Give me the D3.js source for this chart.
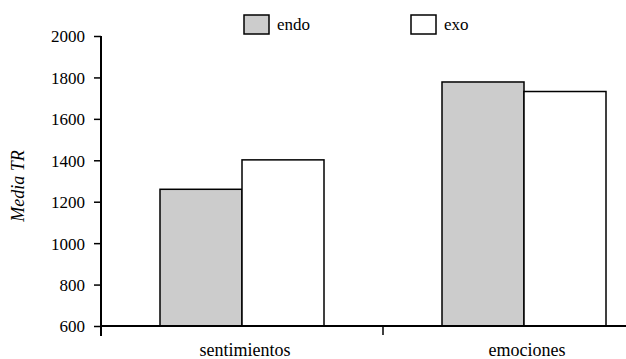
<!DOCTYPE html>
<html>
<head>
<meta charset="utf-8">
<script src="https://cdn.jsdelivr.net/npm/d3@7"></script>
<style>
  html, body { margin: 0; padding: 0; background: #fff; }
  svg { display: block; }
</style>
</head>
<body>
<svg id="chart" width="626" height="359" font-family="Liberation Serif"></svg>
<script>
const categories = ["sentimientos", "emociones"];
const seriesNames = ["endo", "exo"];
const endoValues = [1260, 1778];
const exoValues = [1402, 1732];
const yTicks = [600, 800, 1000, 1200, 1400, 1600, 1800, 2000];
const seriesColors = ["#cccccc", "#ffffff"];

const FONT = "Liberation Serif";
const svg = d3.select("#chart");
const W = 626, H = 359;
const x0 = 101, y0 = 326, yTop = 36;

function serif(sel, size) {
  return sel.attr("font-family", FONT).attr("font-size", size)
    .style("font-family", FONT, "important").style("font-size", size + "px", "important");
}

const y = d3.scaleLinear().domain([600, 2000]).range([y0, yTop]);
const x = d3.scaleBand().domain(categories).range([x0, x0 + 564]).paddingInner(0).paddingOuter(0);
const inner = d3.scaleBand().domain(seriesNames).range([0, 164]);

const data = categories.map((c, i) => ({cat: c, values: [endoValues[i], exoValues[i]]}));

// bars
const g = svg.append("g");
data.forEach(d => {
  const gx = x(d.cat) + x.bandwidth() / 2 - 82;
  d.values.forEach((v, j) => {
    g.append("rect")
      .attr("x", gx + inner(seriesNames[j]))
      .attr("y", y(v))
      .attr("width", inner.bandwidth())
      .attr("height", y0 - y(v))
      .attr("fill", seriesColors[j])
      .attr("stroke", "#000")
      .attr("stroke-width", 1.5);
  });
});

// y axis
const yAxis = d3.axisLeft(y).tickValues(yTicks).tickFormat(d3.format("d")).tickSize(7).tickSizeOuter(0);
const ya = svg.append("g").attr("transform", `translate(${x0},0)`).call(yAxis);
serif(ya, 17);
ya.select(".domain").remove();
ya.selectAll(".tick line").attr("stroke", "#000").attr("stroke-width", 1.5);
serif(ya.selectAll(".tick text").attr("x", -16).attr("dy", "0.35em").attr("fill", "#000"), 17);
svg.append("line").attr("x1", x0).attr("x2", x0).attr("y1", yTop).attr("y2", 336)
  .attr("stroke", "#000").attr("stroke-width", 2);

// x axis
svg.append("line").attr("x1", x0).attr("x2", W).attr("y1", y0).attr("y2", y0)
  .attr("stroke", "#000").attr("stroke-width", 2);
svg.append("line").attr("x1", x0 + x.step()).attr("x2", x0 + x.step()).attr("y1", y0).attr("y2", y0 + 9)
  .attr("stroke", "#000").attr("stroke-width", 1.5);
categories.forEach(c => {
  serif(svg.append("text").attr("x", x(c) + x.bandwidth() / 2 + 3).attr("y", 356)
    .attr("text-anchor", "middle"), 18).text(c);
});

// y title
serif(svg.append("text").attr("transform", "translate(24,186) rotate(-90)")
  .attr("text-anchor", "middle").attr("font-style", "italic").style("font-style", "italic"), 18)
  .text("Media TR");

// legend
const legendX = [244, 411];
seriesNames.forEach((s, j) => {
  svg.append("rect").attr("x", legendX[j]).attr("y", 15).attr("width", 25).attr("height", 19)
    .attr("fill", seriesColors[j]).attr("stroke", "#000").attr("stroke-width", 1.5);
  serif(svg.append("text").attr("x", legendX[j] + 33).attr("y", 30), 17).text(s);
});
</script>
</body>
</html>
